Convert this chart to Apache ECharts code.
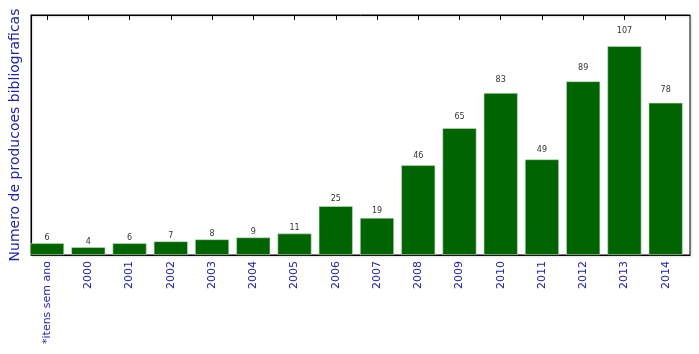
<!DOCTYPE html>
<html>
<head>
<meta charset="utf-8">
<script src="https://cdn.jsdelivr.net/npm/echarts@6/dist/echarts.min.js"></script>
<style>
html,body{margin:0;padding:0;background:#fff;}
#chart{width:699px;height:354px;}
</style>
</head>
<body>
<div id="chart"></div>
<script>
// categorias e contagens por ano
var categorias = ['*itens sem ano','2000','2001','2002','2003','2004','2005','2006','2007','2008','2009','2010','2011','2012','2013','2014'];
var contagens = [6, 4, 6, 7, 8, 9, 11, 25, 19, 46, 65, 83, 49, 89, 107, 78];
var posicoes = categorias.map(function (c, i) { return i; });

var yMax = 123;
var alturaPlot = 240;
var pxPorUnidade = alturaPlot / yMax;

var myChart = echarts.init(document.getElementById('chart'));
var azul = '#2323a8';
var option = {
    animation: false,
    grid: {
        left: 31, right: 9, top: 15, bottom: 99,
        show: true, borderColor: '#000', borderWidth: 1,
        shadowColor: 'rgba(0,0,0,0.25)', shadowOffsetX: 1, shadowOffsetY: 1, shadowBlur: 2
    },
    xAxis: [{
        type: 'value',
        min: -0.39, max: 15.59,
        position: 'bottom',
        splitLine: { show: false },
        axisLine: { show: true, onZero: false, lineStyle: { color: '#000' } },
        axisTick: { show: true, inside: true, length: 5, customValues: posicoes, lineStyle: { color: '#000' } },
        axisLabel: {
            customValues: posicoes, rotate: 90, margin: 6,
            color: azul, fontSize: 11, fontFamily: 'DejaVu Sans',
            formatter: function (v) { return categorias[Math.round(v)]; }
        }
    }, {
        type: 'value',
        min: -0.39, max: 15.59,
        position: 'top',
        splitLine: { show: false },
        axisLine: { show: true, onZero: false, lineStyle: { color: '#000' } },
        axisTick: { show: true, inside: true, length: 5, customValues: posicoes, lineStyle: { color: '#000' } },
        axisLabel: { show: false }
    }],
    yAxis: {
        type: 'value',
        min: 0, max: yMax,
        name: 'Numero de producoes bibliograficas',
        nameLocation: 'middle', nameGap: 9,
        nameTextStyle: { color: azul, fontSize: 14, fontFamily: 'DejaVu Sans' },
        axisLine: { show: true, onZero: false, lineStyle: { color: '#000' } },
        axisTick: { show: false },
        axisLabel: { show: false },
        splitLine: { show: false }
    },
    series: [{
        type: 'bar',
        barWidth: 34,
        data: posicoes.map(function (i) {
            var v = contagens[i];
            // rotulo um pouco mais alto nas barras maiores, como no original
            return {
                value: [i, v],
                label: { distance: Math.max(1, (0.05 * v + 2.5) * pxPorUnidade - 4) }
            };
        }),
        itemStyle: { color: '#006400', borderColor: '#c8dcc8', borderWidth: 0.6 },
        label: {
            show: true, position: 'top',
            color: '#333', fontSize: 8, fontFamily: 'DejaVu Sans',
            formatter: function (p) { return p.value[1]; }
        }
    }]
};
myChart.setOption(option);
</script>
</body>
</html>
